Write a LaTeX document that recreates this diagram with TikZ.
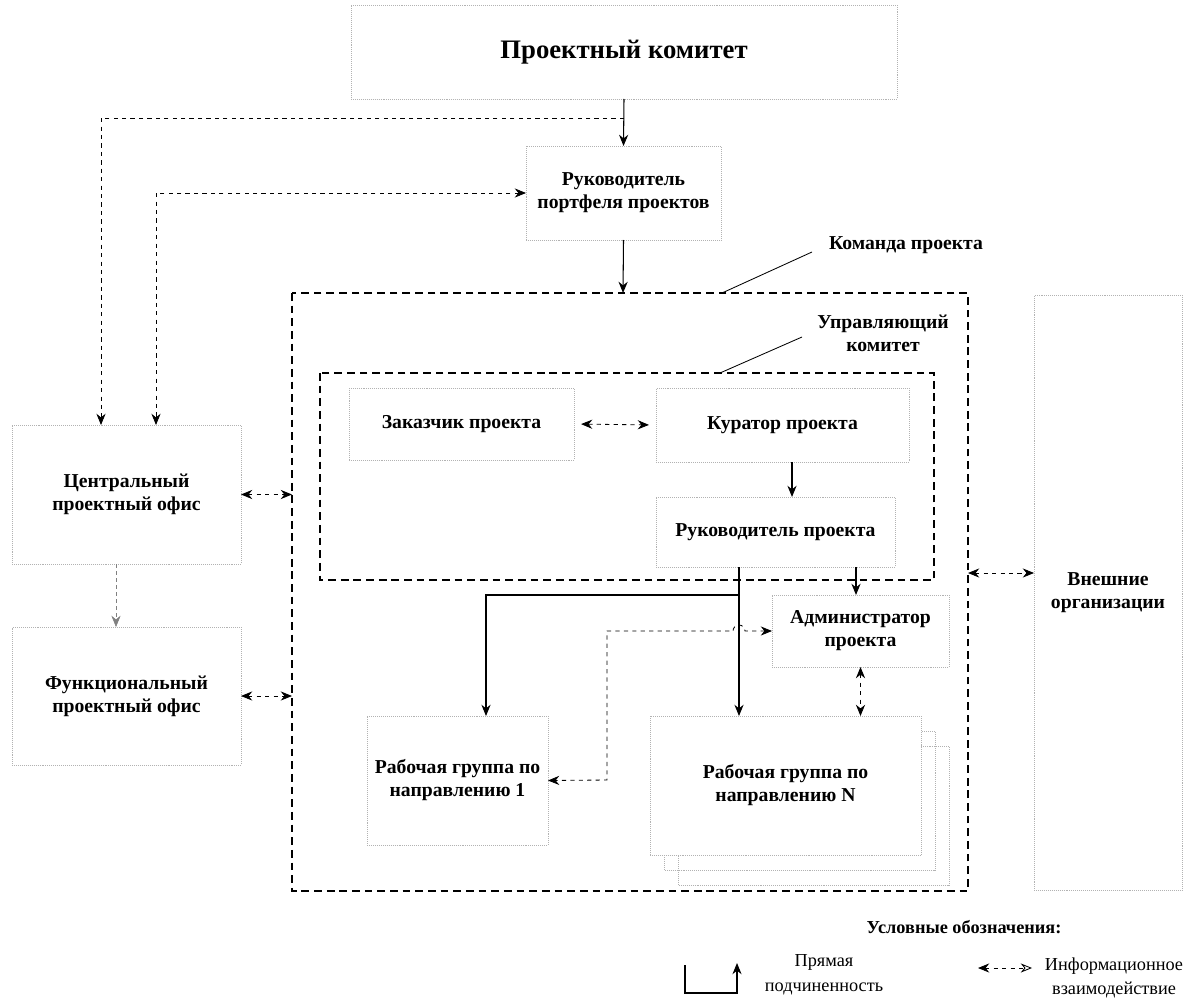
\documentclass[tikz,border=0pt]{standalone}
\usepackage{fontspec}
\setmainfont{Liberation Serif}
\usetikzlibrary{arrows.meta,calc}
\tikzset{
  blk/.style 2 args={draw=gray!60,densely dotted,inner sep=0pt,outer sep=0pt,align=center,
    minimum width=#1*0.025cm,minimum height=#2*0.025cm,font=\fontsize{14}{16.4}\selectfont\bfseries},
  grp/.style={draw,dash pattern=on 5.5pt off 3.5pt,line width=0.85pt},
  lbl/.style={align=center,font=\fontsize{14}{16.4}\selectfont\bfseries},
  sub/.style={draw,line width=0.75pt,->},
  info/.style={draw,dashed,line width=0.6pt,<->},
  leg/.style={align=center,font=\fontsize{13}{17.5}\selectfont},
}
\begin{document}
\begin{tikzpicture}[x=0.025cm,y=-0.025cm,>={Stealth[length=8pt,width=6.5pt]}]
            \useasboundingbox (0,0) rectangle (1189,999);
            % team and steering committee frames
            \draw[grp] (292,293) rectangle (968,891);
            \draw[grp] (320,373) rectangle (934,580);
            \coordinate (teamN) at (623,293);
            \coordinate (teamW) at (292,0);
            \coordinate (teamE) at (968,573);
            \node[lbl] at (906,245)(teamlbl){Команда проекта};
            \node[lbl] at (883,333)(steerlbl){Управляющий\\комитет};
            \draw[line width=0.6pt] (812,252) -- (722,293);
            \draw[line width=0.6pt] (802,337) -- (720,373);

            \node[blk={546}{94},font=\fontsize{19}{22}\selectfont\bfseries] at (624,52)(committee){Проектный комитет};
            \node[blk={195}{94}] at (623.5,193)(portfolio){Руководитель\\портфеля проектов};
            \node[blk={229}{139}] at (126.5,494.5)(central){Центральный\\проектный офис};
            \node[blk={229}{138}] at (126.5,696)(func){Функциональный\\проектный офис};
            \node[blk={225}{72}] at (461.5,424)(customer){Заказчик проекта};
            \node[blk={253}{74}] at (782.5,425)(curator){Куратор проекта};
            \node[blk={239}{70}] at (775.5,532)(pm){Руководитель проекта};
            \node[blk={177}{72}] at (860.5,631)(admin){Администратор\\проекта};
            \node[blk={181}{129}] at (457.5,780.5)(wgone){Рабочая группа по\\направлению 1};
            \foreach \d in {28,14}{
                \draw[draw=gray!60,densely dotted] (650+\d,716+\d*1.07) rectangle (921+\d,855+\d*1.07);
            }
            \node[blk={271}{139},fill=white] at (785.5,785.5)(wgn){Рабочая группа по\\направлению N};
            \node[blk={148}{595}] at (1108,592.5)(ext){Внешние\\организации};

            % helper points on the connectors
            \coordinate (cmt) at ($(committee.south)+(0,19)$);
            \coordinate (cur) at ($(curator.south)+(9.5,0)$);
            \coordinate (pmwg) at ($(pm.south)+(-36.5,0)$);
            \coordinate (pmsplit) at ($(pm.south)+(-36.5,28)$);
            \coordinate (pmadm) at ($(pm.south)+(80.5,0)$);
            \coordinate (cenA) at ($(central.north)+(-25.5,0)$);
            \coordinate (cenB) at ($(central.north)+(29.5,0)$);
            \coordinate (cenS) at ($(central.south)+(-10.5,0)$);

            % direct subordination
            \path[sub] (committee.south) -- (portfolio.north);
            \path[sub] (portfolio.south) -- (teamN);
            \path[sub] (cur) -- (cur |- pm.north);
            \path[sub] (pmwg) -- (pmwg |- wgn.north);
            \path[sub] (pmsplit) -| ($(wgone.north)+(28.5,0)$);
            \path[sub] (pmadm) -- (pmadm |- admin.north);

            % information links
            \path[draw,dashed,line width=0.6pt,->] (cmt) -| (cenA);
            \path[info] (portfolio.west) -| (cenB);
            \path[info] (central.east) -- (central.east -| teamW);
            \path[info] (func.east) -- (func.east -| teamW);
            \path[draw,densely dashed,gray,->] (cenS) -- (cenS |- func.north);
            \path[info,shorten <=5pt,shorten >=5pt] (customer.east) -- (curator.west);
            \path[info] (admin.south) -- (admin.south |- wgn.north);
            \path[info] (teamE) -- (teamE -| ext.west);
            \path[info] (admin.west) -- (745,631) arc[start angle=0,end angle=180,radius=0.15cm]
                -- (607,631) -- (607,780) -- (wgone.east);

            % legend
            \node[font=\fontsize{13}{15}\selectfont\bfseries] at (964,927)(legend){Условные обозначения:};
            \coordinate (la) at (685,965);
            \coordinate (lb) at (737,963);
            \path[sub] (la) -- (685,993) -- (737,993) -- (lb);
            \node[leg] at (824,975)(ltxt){Прямая\\подчиненность};
            \coordinate (lc) at (978,968);
            \coordinate (ld) at (1032,968);
            \path[draw,dashed,line width=0.6pt,{Stealth[length=8pt,width=6.5pt]}-{Stealth[open,length=8pt,width=6.5pt]}] (lc) -- (ld);
            \node[leg] at (1114,978)(itxt){Информационное\\взаимодействие};
\end{tikzpicture}
\end{document}
